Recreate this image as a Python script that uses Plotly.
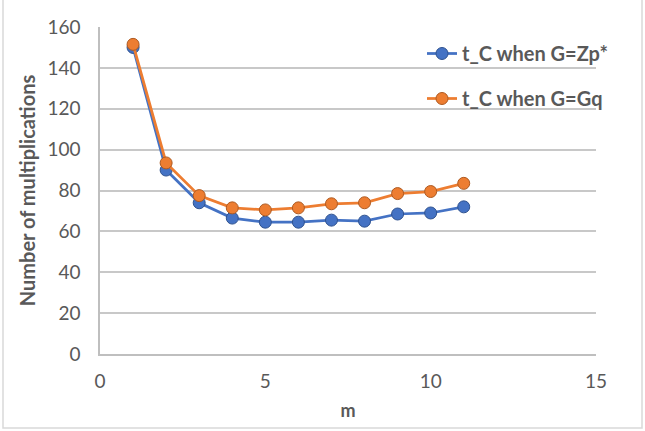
import plotly.graph_objects as go

m_values = [1, 2, 3, 4, 5, 6, 7, 8, 9, 10, 11]
tc_zp = [150, 90, 74, 66.5, 64.5, 64.5, 65.5, 65, 68.5, 69, 72]
tc_gq = [151.5, 93.5, 77.5, 71.5, 70.5, 71.5, 73.5, 74, 78.5, 79.5, 83.5]
series_names = ["t_C when G=Zp*", "t_C when G=Gq"]
series_colors = ["#4472C4", "#ED7D31"]
edge_colors = ["#2F528F", "#AE5A21"]

fig = go.Figure()
for i, (name, vals) in enumerate(zip(series_names, [tc_zp, tc_gq])):
    fig.add_trace(go.Scatter(
        x=m_values, y=vals, name=name, mode="lines+markers",
        line=dict(color=series_colors[i], width=2.75),
        marker=dict(size=12, color=series_colors[i],
                    line=dict(color=edge_colors[i], width=1)),
        legendgroup=name,
    ))

font_family = "Lato, 'Open Sans', sans-serif"
grey = "#595959"
W, H = 645, 431
L, R, T, B = 100, 49, 27, 77
pw, ph = W - L - R, H - T - B

fig.update_layout(
    width=W, height=H,
    margin=dict(l=L, r=R, t=T, b=B),
    paper_bgcolor="white", plot_bgcolor="white",
    font=dict(family=font_family, color=grey, size=18),
    showlegend=True,
    legend=dict(x=(422 - L) / pw, y=(354 - 34) / ph, xanchor="left", yanchor="top",
                bgcolor="rgba(0,0,0,0)", font=dict(size=20, color=grey, weight="bold"),
                traceorder="grouped", tracegroupgap=16, itemwidth=30),
    xaxis=dict(range=[0, 15], tickvals=[0, 5, 10, 15], showgrid=False,
               showline=True, linecolor="#BFBFBF", linewidth=1.5, zeroline=False,
               ticks="", tickfont=dict(size=19, color=grey), ticklabelstandoff=9,
               title=dict(text="m", font=dict(size=18, color=grey, weight="bold"), standoff=14)),
    yaxis=dict(range=[0, 160], tickvals=[0, 20, 40, 60, 80, 100, 120, 140, 160],
               showgrid=True, gridcolor="#C8C8C8", gridwidth=1.5,
               showline=True, linecolor="#BFBFBF", linewidth=1.5, zeroline=False,
               ticks="", tickfont=dict(size=19, color=grey), ticklabelstandoff=14,
               title=dict(text="Number of multiplications",
                          font=dict(size=20, color=grey, weight="bold"), standoff=6)),
    shapes=[dict(type="rect", xref="paper", yref="paper",
                 x0=(3 - L) / pw, x1=(642 - L) / pw,
                 y0=-(428 - T - ph) / ph, y1=(H - T - 3) / ph,
                 line=dict(color="#D9D9D9", width=1.5), fillcolor="rgba(0,0,0,0)", layer="below")],
)

fig.write_html("out.html", config={"displayModeBar": False},
               post_script="document.body.style.margin='0px';")
